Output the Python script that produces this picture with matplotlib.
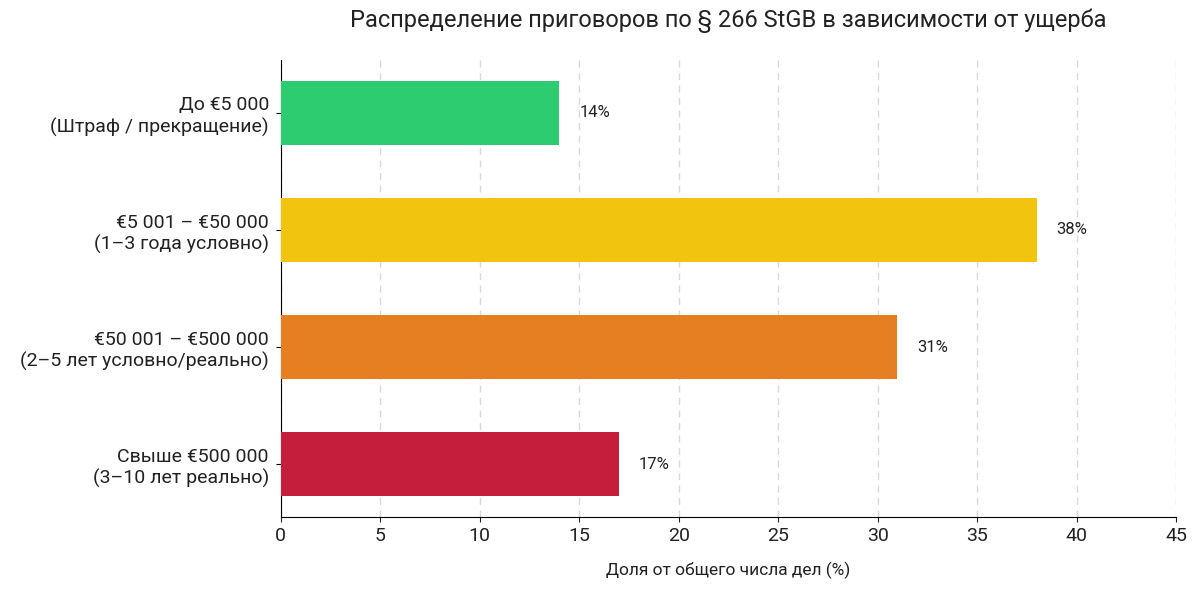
import matplotlib.pyplot as plt

# data
categories = ['До €5 000\n(Штраф / прекращение)',
              '€5 001 – €50 000\n(1–3 года условно)',
              '€50 001 – €500 000\n(2–5 лет условно/реально)',
              'Свыше €500 000\n(3–10 лет реально)']
shares = [14, 38, 31, 17]
colors = ['#2ecc71', '#f1c40f', '#e67e22', '#c41e3a']

plt.rcParams['font.family'] = ['Roboto', 'DejaVu Sans']

fig = plt.figure(figsize=(12, 5.94), dpi=100)
ax = fig.add_axes([0.234, 0.1296, 0.746, 0.7694])

ax.barh(range(len(shares)), shares, height=0.55, color=colors, zorder=3)
ax.invert_yaxis()
ax.set_yticks(range(len(shares)))
ax.set_yticklabels(categories, fontsize=14, color='#222222')
ax.tick_params(axis='y', pad=5)

for i, v in enumerate(shares):
    ax.text(v + 1, i, f'{v}%', va='center', ha='left', fontsize=12, color='#222222')

ax.set_xlim(0, 45)
ax.set_xticks(range(0, 50, 5))
ax.tick_params(axis='x', labelsize=14, colors='#222222')
ax.set_xlabel('Доля от общего числа дел (%)', fontsize=12.5, labelpad=12, color='#222222')
ax.grid(axis='x', linestyle=(0, (5, 4)), color='#d9d9d9', linewidth=1, zorder=0)

ax.spines['top'].set_visible(False)
ax.spines['right'].set_visible(False)

fig.suptitle('Распределение приговоров по § 266 StGB в зависимости от ущерба',
             x=0.607, y=0.985, fontsize=17, color='#222222')

fig.savefig('out.png')
